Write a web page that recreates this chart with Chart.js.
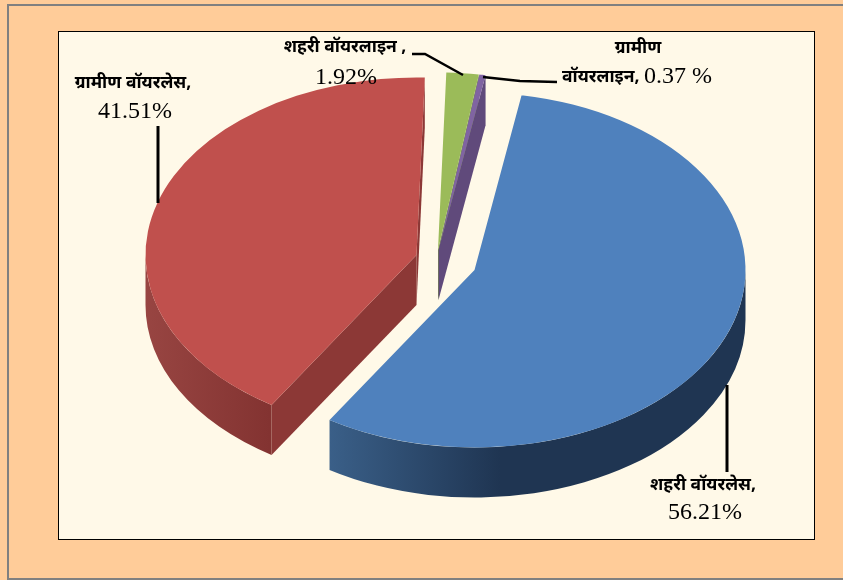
<!DOCTYPE html>
<html>
<head>
<meta charset="utf-8">
<script src="https://cdn.jsdelivr.net/npm/chart.js@4"></script>
<style>
  html, body { margin: 0; width: 843px; height: 580px; overflow: hidden; background: #FFCC99; }
  #frame { position: absolute; left: 7px; top: 4px; width: 843px; height: 572px; border: 2px solid #808080; border-right: 0; box-sizing: content-box; }
  #plot { position: absolute; left: 58px; top: 31px; width: 755px; height: 507px; background: #FFF9E8; border: 1px solid #000; }
  canvas { position: absolute; left: 0; top: 0; }
</style>
</head>
<body>
<div id="frame"></div>
<div id="plot"></div>
<canvas id="chart-pie" width="843" height="580"></canvas>
<script>
let categories = ["शहरी वॉयरलेस", "ग्रामीण वॉयरलेस", "शहरी वॉयरलाइन", "ग्रामीण वॉयरलाइन"]
let shares = [56.21, 41.51, 1.92, 0.37]
let topColors = ["#4F81BD", "#C0504D", "#9BBB59", "#8064A2"]

// 3d look, the pie is squashed and every slice gets pulled out and given a wall
const squash = 0.655
const depth = 50
const pullX = [34.5, -23.5, -2, -1.5]
const pullY = [-1, -16, -21, -21]
const drawOrder = [1, 2, 3, 0]

function wallFill(ctx, i) {
    if (i == 0) {
        let g = ctx.createLinearGradient(330, 0, 500, 0)
        g.addColorStop(0, "#3A5F88")
        g.addColorStop(1, "#1F3552")
        return g
    }
    if (i == 1) {
        let g = ctx.createLinearGradient(145, 0, 270, 0)
        g.addColorStop(0, "#984542")
        g.addColorStop(1, "#833331")
        return g
    }
    return i == 2 ? "#7A9446" : "#604A7B"
}

function ptOn(a, r) {
    return [Math.cos(a) * r, Math.sin(a) * r * squash]
}

function drawWalls(ctx, arc, i) {
    let a0 = arc.startAngle
    let a1 = arc.endAngle
    let r = arc.outerRadius
    let cx = arc.x + pullX[i]
    let cy = arc.y + pullY[i]

    // side facing the viewer on the outside of the pie
    let from = Math.max(a0, 0)
    let to = Math.min(a1, Math.PI)
    if (from < to) {
        ctx.beginPath()
        ctx.ellipse(cx, cy, r, r * squash, 0, from, to)
        ctx.ellipse(cx, cy + depth, r, r * squash, 0, to, from, true)
        ctx.closePath()
        ctx.fillStyle = wallFill(ctx, i)
        ctx.fill()
    }

    // cut faces, only when they look downwards
    let cuts = []
    if (Math.cos(a0) < 0) cuts.push(a0)
    if (Math.cos(a1) > 0) cuts.push(a1)
    cuts.forEach((a) => {
        let p = ptOn(a, r)
        ctx.beginPath()
        ctx.moveTo(cx, cy)
        ctx.lineTo(cx + p[0], cy + p[1])
        ctx.lineTo(cx + p[0], cy + p[1] + depth)
        ctx.lineTo(cx, cy + depth)
        ctx.closePath()
        ctx.fillStyle = i == 1 ? "#8C3836" : i == 0 ? "#2A4767" : wallFill(ctx, i)
        ctx.fill()
    })
}

const pie3d = {
    id: "pie3d",
    beforeDatasetDraw(chart, args) {
        let ctx = chart.ctx
        let arcs = chart.getDatasetMeta(args.index).data
        drawOrder.forEach((i) => {
            let arc = arcs[i]
            drawWalls(ctx, arc, i)
            ctx.save()
            ctx.translate(arc.x + pullX[i], arc.y + pullY[i])
            ctx.scale(1, squash)
            ctx.translate(-arc.x, -arc.y)
            arc.draw(ctx)
            ctx.restore()
        })
        return false
    }
}

const leaderLines = [
    { w: 3, pts: [[158, 126], [158, 203]] },
    { w: 3, pts: [[727, 385], [727, 472]] },
    { w: 2.5, pts: [[412, 54], [425, 54], [463, 75]] },
    { w: 2.5, pts: [[483, 77], [520, 81], [557, 82]] }
]

const nameFont = "bold 17.5px 'Noto Sans', 'Liberation Serif', serif"
const numFont = "24px 'Liberation Serif', serif"

const labels = {
    id: "labels",
    afterDatasetsDraw(chart) {
        let ctx = chart.ctx
        ctx.save()
        ctx.strokeStyle = "#000"
        leaderLines.forEach((l) => {
            ctx.lineWidth = l.w
            ctx.beginPath()
            l.pts.forEach((p, n) => n == 0 ? ctx.moveTo(p[0], p[1]) : ctx.lineTo(p[0], p[1]))
            ctx.stroke()
        })
        ctx.fillStyle = "#000"
        ctx.textAlign = "center"
        ctx.textBaseline = "middle"

        ctx.font = nameFont
        ctx.fillText(categories[1] + ",", 133, 83)
        ctx.fillText(categories[0] + ",", 703, 485)
        ctx.fillText(categories[2] + " ,", 345, 47)
        ctx.fillText("ग्रामीण", 638, 48)

        ctx.font = numFont
        ctx.fillText(shares[1].toFixed(2) + "%", 135, 112)
        ctx.fillText(shares[0].toFixed(2) + "%", 705, 513)
        ctx.fillText(shares[2].toFixed(2) + "%", 346, 78)

        // last label shares one line
        ctx.textAlign = "left"
        ctx.font = nameFont
        let head = "वॉयरलाइन, "
        ctx.fillText(head, 562, 77)
        let w = ctx.measureText(head).width
        ctx.font = numFont
        ctx.fillText(shares[3].toFixed(2) + " %", 562 + w, 77)
        ctx.restore()
    }
}

let pieChart = new Chart(
    document.getElementById("chart-pie").getContext("2d"),
    {
        type: "pie",
        data: {
            labels: categories,
            datasets: [{
                data: shares,
                backgroundColor: topColors,
                borderWidth: 0
            }]
        },
        options: {
            responsive: false,
            animation: false,
            rotation: 10,
            layout: { padding: { left: 37, top: 0, right: 0, bottom: 38 } },
            plugins: {
                legend: { display: false },
                tooltip: { enabled: false }
            }
        },
        plugins: [pie3d, labels]
    }
)
</script>
</body>
</html>
